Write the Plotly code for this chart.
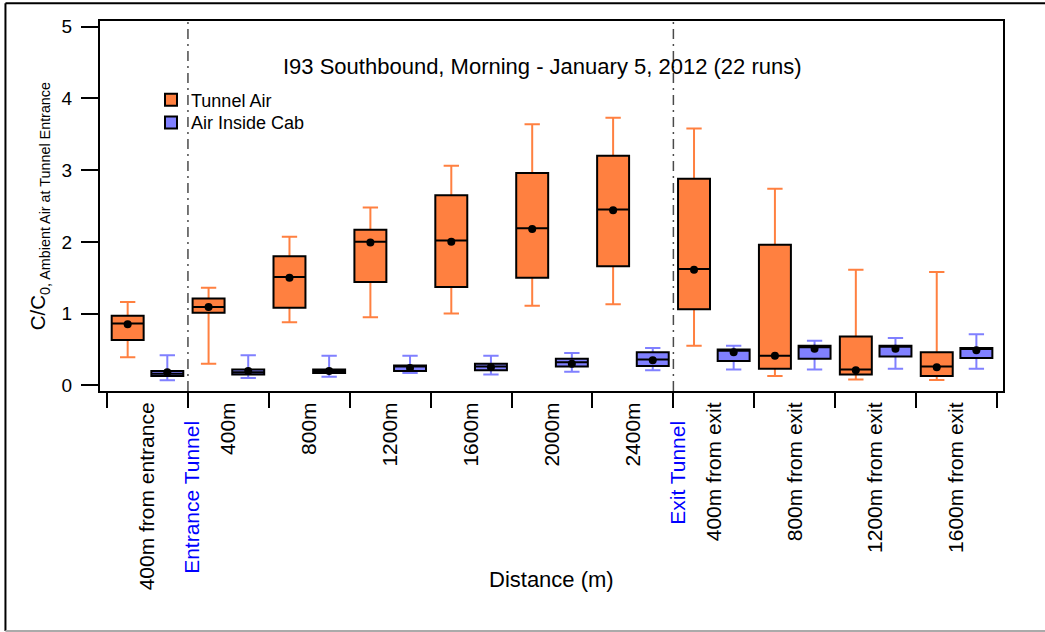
import numpy as np
import plotly.graph_objects as go

# ---------------- data ----------------
categories = ["400m from entrance", "400m", "800m", "1200m", "1600m", "2000m",
              "2400m", "400m from exit", "800m from exit", "1200m from exit",
              "1600m from exit"]
boundary_labels = {0.5: "Entrance Tunnel", 6.5: "Exit Tunnel"}

tunnel_lower = [0.39, 0.30, 0.88, 0.95, 1.00, 1.11, 1.13, 0.55, 0.13, 0.08, 0.075]
tunnel_q1 = [0.63, 1.01, 1.08, 1.44, 1.37, 1.50, 1.66, 1.06, 0.23, 0.15, 0.13]
tunnel_median = [0.86, 1.09, 1.51, 2.00, 2.02, 2.19, 2.45, 1.62, 0.41, 0.22, 0.26]
tunnel_q3 = [0.97, 1.21, 1.80, 2.17, 2.65, 2.96, 3.20, 2.88, 1.96, 0.68, 0.46]
tunnel_upper = [1.16, 1.36, 2.07, 2.48, 3.06, 3.64, 3.73, 3.58, 2.74, 1.61, 1.58]
tunnel_mean = [0.85, 1.09, 1.50, 1.99, 2.00, 2.18, 2.44, 1.61, 0.41, 0.21, 0.25]

cab_lower = [0.07, 0.10, 0.12, 0.17, 0.15, 0.19, 0.21, 0.22, 0.22, 0.23, 0.23]
cab_q1 = [0.13, 0.15, 0.17, 0.20, 0.21, 0.26, 0.27, 0.34, 0.37, 0.40, 0.38]
cab_median = [0.16, 0.18, 0.20, 0.26, 0.26, 0.32, 0.36, 0.48, 0.53, 0.54, 0.51]
cab_q3 = [0.20, 0.22, 0.22, 0.275, 0.30, 0.37, 0.46, 0.50, 0.55, 0.55, 0.52]
cab_upper = [0.42, 0.42, 0.41, 0.41, 0.41, 0.45, 0.52, 0.55, 0.62, 0.66, 0.71]
cab_mean = [0.18, 0.20, 0.20, 0.24, 0.25, 0.30, 0.35, 0.46, 0.51, 0.51, 0.49]

y_ticks = [0, 1, 2, 3, 4, 5]

# ---------------- style ----------------
FONT = "Liberation Sans, Arial, Helvetica, sans-serif"
ORANGE = "#FF8040"
BLUE = "#8080FF"
OFFSET = 0.245
BOXW = 0.395

centers = np.arange(len(categories))
x_tunnel = centers - OFFSET
x_cab = centers + OFFSET
boundaries = np.arange(len(categories) + 1) - 0.5

fig = go.Figure()

# whiskers (colored), drawn first
for xs, lo, med, up, col in [(x_tunnel, tunnel_lower, tunnel_median, tunnel_upper, ORANGE),
                             (x_cab, cab_lower, cab_median, cab_upper, BLUE)]:
    fig.add_trace(go.Box(x=xs, q1=med, median=med, q3=med, lowerfence=lo, upperfence=up,
                         width=BOXW, whiskerwidth=0.48, line=dict(color=col, width=2),
                         fillcolor="rgba(0,0,0,0)", showlegend=False, hoverinfo="skip"))

# boxes
for xs, q1, med, q3, col, name, lg in [
        (x_tunnel, tunnel_q1, tunnel_median, tunnel_q3, ORANGE, "Tunnel Air", "legend"),
        (x_cab, cab_q1, cab_median, cab_q3, BLUE, "Air Inside Cab", "legend2")]:
    fig.add_trace(go.Box(x=xs, q1=q1, median=med, q3=q3, lowerfence=q1, upperfence=q3,
                         width=BOXW, whiskerwidth=0, line=dict(color="black", width=2),
                         fillcolor=col, name=name, legend=lg))

# means
for xs, mn in [(x_tunnel, tunnel_mean), (x_cab, cab_mean)]:
    fig.add_trace(go.Scatter(x=xs, y=mn, mode="markers",
                             marker=dict(color="black", size=8), showlegend=False))

# dash-dot separators
for b in boundary_labels:
    fig.add_shape(type="line", xref="x", yref="paper", x0=b, x1=b, y0=0, y1=1,
                  line=dict(color="#4a4a4a", width=1.5, dash="10px,5px,2px,5px"))

# boundary labels
for b, txt in boundary_labels.items():
    fig.add_annotation(x=b, xref="x", xshift=4, y=-0.074, yref="paper",
                       text=txt, textangle=-90, showarrow=False,
                       xanchor="center", yanchor="top",
                       font=dict(family=FONT, size=21, color="#0000FF"))

# title, axis titles
fig.add_annotation(x=0.4895, y=0.916, xref="paper", yref="paper", showarrow=False,
                   text="I93 Southbound, Morning - January 5, 2012 (22 runs)",
                   font=dict(family=FONT, size=22, color="black"))
fig.add_annotation(x=0.4995, y=-0.549, xref="paper", yref="paper", showarrow=False,
                   text="Distance (m)", font=dict(family=FONT, size=22, color="black"))
fig.add_annotation(x=-0.064, xshift=-18, y=0.5, xref="paper", yref="paper", showarrow=False,
                   textangle=-90,
                   text="C/C<sub>0, Ambient Air at Tunnel Entrance</sub>",
                   font=dict(family=FONT, size=20.5, color="black"))

# outer frame
fig.add_shape(type="line", xref="paper", yref="paper", x0=-0.1047, x1=-0.1047,
              y0=-0.6486, y1=1.0478, line=dict(color="black", width=2))
fig.add_shape(type="line", xref="paper", yref="paper", x0=-0.1047, x1=1.05,
              y0=1.0478, y1=1.0478, line=dict(color="black", width=2))
fig.add_shape(type="line", xref="paper", yref="paper", x0=-0.1047, x1=1.05,
              y0=-0.6486, y1=-0.6486, line=dict(color="#aaaaaa", width=2))

fig.update_layout(
    width=1045, height=632,
    margin=dict(l=100, r=42, t=21, b=241),
    paper_bgcolor="white", plot_bgcolor="white",
    boxmode="overlay",
    font=dict(family=FONT, color="black"),
    legend=dict(x=0.0565, y=0.7865, xanchor="left", yanchor="middle",
                bgcolor="rgba(0,0,0,0)", font=dict(family=FONT, size=18)),
    legend2=dict(x=0.0565, y=0.725, xanchor="left", yanchor="middle",
                 bgcolor="rgba(0,0,0,0)", font=dict(family=FONT, size=18)),
)

fig.update_xaxes(
    range=[-0.587, 10.574], showline=True, linewidth=2, linecolor="black", mirror=True,
    showgrid=False, zeroline=False,
    tickmode="array", tickvals=centers, ticktext=categories, tickangle=-90,
    ticks="outside", ticklen=1, tickcolor="rgba(0,0,0,0)",
    tickfont=dict(family=FONT, size=21, color="black"),
    minor=dict(tickmode="array", tickvals=boundaries, ticks="outside", ticklen=15,
               tickwidth=2, tickcolor="black", showgrid=False),
)
fig.update_yaxes(
    range=[-0.08, 5.08], showline=True, linewidth=2, linecolor="black", mirror=True,
    showgrid=False, zeroline=False,
    tickmode="array", tickvals=y_ticks, ticks="outside", ticklen=17, tickwidth=2,
    tickcolor="black", ticklabelstandoff=5,
    tickfont=dict(family=FONT, size=19, color="black"),
)

fig.write_html("out.html")
